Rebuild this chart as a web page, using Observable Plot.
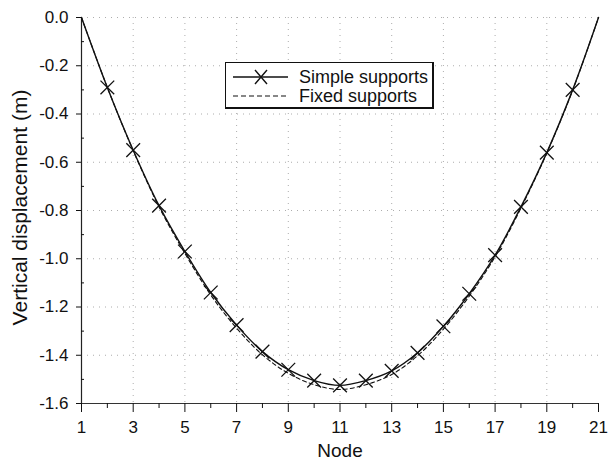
<!DOCTYPE html>
<html>
<head>
<meta charset="utf-8">
<script src="https://cdn.jsdelivr.net/npm/d3@7"></script>
<script src="https://cdn.jsdelivr.net/npm/@observablehq/plot@0.6"></script>
<style>
  html, body { margin: 0; padding: 0; background: #fff; }
  #wrap { position: relative; width: 613px; height: 466px; font-family: "Liberation Sans", Arial, sans-serif; }
  #legend {
    position: absolute; left: 225px; top: 62px; width: 206px; height: 44px;
    border: 1.5px solid #111; border-right-width: 2.5px; border-bottom-width: 2.5px;
    background: #fff; font-size: 18px; color: #111;
  }
  #legend .row { position: absolute; left: 7px; height: 20px; display: flex; align-items: center; }
  #legend .row span { margin-left: 11px; white-space: nowrap; }
</style>
</head>
<body>
<div id="wrap">
  <div id="chart"></div>
  <div id="legend">
    <div class="row" style="top:4px">
      <svg width="55" height="20"><line x1="0" y1="10" x2="55" y2="10" stroke="#111" stroke-width="1.3"/><path d="M22,3L34,17M34,3L22,17" stroke="#111" stroke-width="1.4" fill="none"/></svg>
      <span>Simple supports</span>
    </div>
    <div class="row" style="top:23px">
      <svg width="55" height="20"><line x1="0" y1="10" x2="55" y2="10" stroke="#111" stroke-width="1.1" stroke-dasharray="5,3"/></svg>
      <span>Fixed supports</span>
    </div>
  </div>
</div>
<script>
// Node numbers along the beam
const nodes = [1, 2, 3, 4, 5, 6, 7, 8, 9, 10, 11, 12, 13, 14, 15, 16, 17, 18, 19, 20, 21];
// Vertical displacement (m) for each support condition
const simpleSupports = [0, -0.29, -0.55, -0.78, -0.97, -1.14, -1.275, -1.385, -1.46, -1.505, -1.525, -1.505, -1.465, -1.39, -1.28, -1.145, -0.985, -0.785, -0.56, -0.30, 0];
const fixedSupports  = [0, -0.29, -0.552, -0.785, -0.978, -1.15, -1.288, -1.398, -1.475, -1.522, -1.542, -1.522, -1.48, -1.402, -1.292, -1.155, -0.992, -0.79, -0.562, -0.302, 0];

// Axis ticks and grid positions
const xTicks = [1, 3, 5, 7, 9, 11, 13, 15, 17, 19, 21];
const xMinor = [2, 4, 6, 8, 10, 12, 14, 16, 18, 20];
const yTicks = [-1.6, -1.4, -1.2, -1.0, -0.8, -0.6, -0.4, -0.2, 0.0];
const yMinor = [-1.5, -1.3, -1.1, -0.9, -0.7, -0.5, -0.3, -0.1];
const xGrid = [3, 5, 7, 9, 11, 13, 15, 17, 19];
const yGrid = [-1.4, -1.2, -1.0, -0.8, -0.6, -0.4, -0.2, 0.0];

const simpleRows = nodes.map((n, i) => ({node: n, v: simpleSupports[i]}));
const fixedRows = nodes.map((n, i) => ({node: n, v: fixedSupports[i]}));
const markerRows = simpleRows.slice(1, -1);

const chart = Plot.plot({
  width: 613,
  height: 466,
  marginLeft: 81,
  marginRight: 15,
  marginTop: 17,
  marginBottom: 63,
  style: {fontFamily: "'Liberation Sans', Arial, sans-serif", fontSize: "17px", color: "#111", background: "#fff"},
  x: {domain: [1, 21]},
  y: {domain: [-1.6, 0]},
  marks: [
    Plot.gridX(xGrid, {stroke: "#777", strokeOpacity: 0.6, strokeDasharray: "1,5"}),
    Plot.gridY(yGrid, {stroke: "#777", strokeOpacity: 0.6, strokeDasharray: "1,5"}),
    Plot.ruleX([1], {stroke: "#222", strokeWidth: 1.2}),
    Plot.ruleY([-1.6], {stroke: "#333", strokeWidth: 1.2}),
    Plot.axisX(xTicks, {tickSize: 9, tickPadding: 8, label: null, fontSize: 17, tickFormat: d => String(d)}),
    Plot.axisX(xMinor, {tickSize: 5, label: null, tickFormat: () => ""}),
    Plot.axisY(yTicks, {tickSize: 5, tickPadding: 8, label: null, fontSize: 17, tickFormat: d => d.toFixed(1)}),
    Plot.axisY(yMinor, {tickSize: -3, label: null, tickFormat: () => ""}),
    Plot.line(fixedRows, {x: "node", y: "v", curve: "catmull-rom", stroke: "#111", strokeWidth: 1.1, strokeDasharray: "4,3"}),
    Plot.line(simpleRows, {x: "node", y: "v", curve: "catmull-rom", stroke: "#111", strokeWidth: 1.4}),
    Plot.dot(markerRows, {x: "node", y: "v", symbol: "times", r: 6.3, stroke: "#111", strokeWidth: 1.3}),
    Plot.text(["Node"], {frameAnchor: "bottom", dy: 53, fontSize: 19, fill: "#111"}),
    Plot.text(["Vertical displacement (m)"], {frameAnchor: "left", textAnchor: "middle", dx: -61, dy: -3, rotate: -90, fontSize: 21, fill: "#111"})
  ]
});
document.getElementById("chart").appendChild(chart);
</script>
</body>
</html>
